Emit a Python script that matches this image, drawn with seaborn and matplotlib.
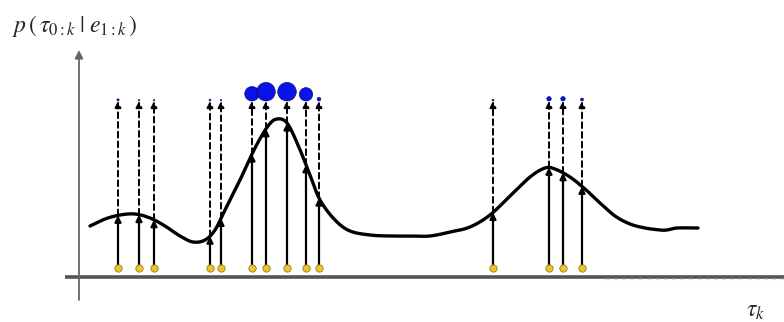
import numpy as np
import pandas as pd
import matplotlib
matplotlib.use("Agg")
import matplotlib.pyplot as plt
import seaborn as sns

# posterior density curve (pixel units, y downwards)
curve_x = [90, 105, 120, 135, 150, 165, 180, 193, 205, 215, 225, 240, 255, 268, 277,
           287, 298, 310, 320, 335, 350, 370, 390, 410, 430, 450, 470, 490, 510, 530,
           545, 555, 570, 585, 600, 615, 630, 645, 660, 667, 677, 698]
curve_y = [226, 219, 215, 214, 218, 226, 236, 242, 240, 230, 210, 180, 148, 126, 119,
           123, 145, 175, 200, 220, 231, 235, 236, 236, 236, 232, 227, 215, 196, 177,
           168, 169, 177, 189, 203, 216, 224, 228, 230, 230, 228, 228]

# particles and their normalised weights
particle_x = [118, 139, 154, 210, 221, 252, 266, 287, 306, 319, 493, 549, 563, 582]
weights = [0.12, 0.08, 0.08, 0.10, 0.08, 0.78, 1.0, 1.0, 0.72, 0.20, 0.10, 0.24, 0.24, 0.16]

base_y = 268      # where samples sit on the tau axis
top_y = 101       # where weighted particles are drawn
axis_y = 277


def smooth(x, y, n=12):
    # catmull-rom through the traced points so the line isn't jagged
    x = np.asarray(x, float)
    y = np.asarray(y, float)
    px = np.concatenate([[x[0]], x, [x[-1]]])
    py = np.concatenate([[y[0]], y, [y[-1]]])
    xs, ys = [], []
    t = np.linspace(0, 1, n, endpoint=False)
    for i in range(1, len(px) - 2):
        for arr, out in ((px, xs), (py, ys)):
            p0, p1, p2, p3 = arr[i - 1], arr[i], arr[i + 1], arr[i + 2]
            out.extend(0.5 * (2 * p1 + (-p0 + p2) * t + (2 * p0 - 5 * p1 + 4 * p2 - p3) * t ** 2
                              + (-p0 + 3 * p1 - 3 * p2 + p3) * t ** 3))
    xs.append(x[-1])
    ys.append(y[-1])
    return np.array(xs), np.array(ys)


sx, sy = smooth(curve_x, curve_y)
curve = pd.DataFrame({"x": sx, "y": sy})
hit_y = np.interp(particle_x, sx, sy)

sns.set_style("white")
plt.rcParams["mathtext.fontset"] = "stix"
fig = plt.figure(figsize=(7.84, 3.22), dpi=100)
ax = fig.add_axes([0, 0, 1, 1])
ax.set_xlim(0, 784)
ax.set_ylim(322, 0)
ax.axis("off")

# axes of the sketch
ax.plot([65, 784], [axis_y, axis_y], color="#555555", lw=2.6, solid_capstyle="butt")
ax.plot([605, 784], [axis_y + 1.5, axis_y + 1.5], color="#dddddd", lw=1, ls=(0, (3, 3)))
ax.annotate("", xy=(79, 50), xytext=(79, 300),
            arrowprops=dict(arrowstyle="-|>", color="#666666", lw=1.3,
                            mutation_scale=12, shrinkA=0, shrinkB=0))

# solid arrows from samples to the density, dashed on up to the weight
for px_, hy in zip(particle_x, hit_y):
    ax.annotate("", xy=(px_, hy), xytext=(px_, base_y),
                arrowprops=dict(arrowstyle="-|>", color="black", lw=1.6,
                                mutation_scale=9, shrinkA=0, shrinkB=0))
    ax.annotate("", xy=(px_, top_y), xytext=(px_, hy),
                arrowprops=dict(arrowstyle="-|>", color="black", lw=1.4, ls=(0, (3, 2)),
                                mutation_scale=9, shrinkA=0, shrinkB=0))

sns.lineplot(data=curve, x="x", y="y", ax=ax, color="black", lw=2.4, sort=False)

# yellow samples
sns.scatterplot(x=particle_x, y=[base_y] * len(particle_x), ax=ax, s=28,
                color="#f2c12e", edgecolor="#8a6d00", linewidth=0.5, zorder=5)

# blue weights, radius scaled by weight
radius = 9.3 * np.asarray(weights)
blue = pd.DataFrame({"x": particle_x, "y": top_y - radius,
                     "s": (2 * radius * 0.72) ** 2})
sns.scatterplot(data=blue, x="x", y="y", ax=ax, size="s", sizes=(blue.s.min(), blue.s.max()),
                color="#0a14e6", edgecolor="#000060", linewidth=0.4, legend=False, zorder=6)

ax.text(12, 26, r"$p\,(\,\tau_{0:k}\;|\;e_{1:k}\,)$", fontsize=17, va="center", ha="left")
ax.text(746, 310, r"$\tau_k$", fontsize=17, va="center", ha="left")

ax.set_xlabel("")
ax.set_ylabel("")
fig.savefig("out.png", dpi=100)
